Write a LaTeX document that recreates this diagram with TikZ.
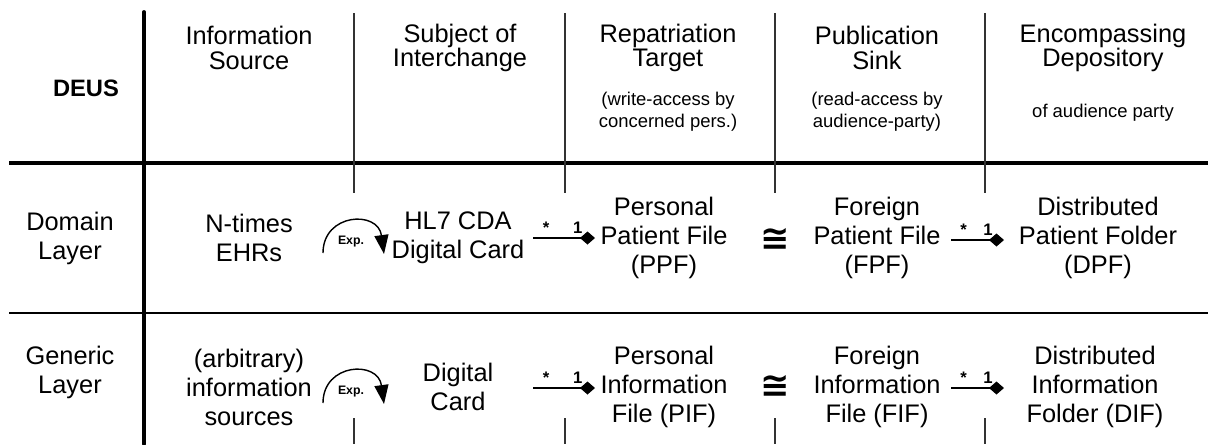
\documentclass[tikz,border=0pt]{standalone}
\usepackage{fontspec}
\setmainfont{Liberation Sans}
\newfontfamily\symfont{DejaVu Sans}
\usetikzlibrary{arrows.meta}
\newcommand{\bodyfont}{\fontsize{14.45pt}{16.5pt}\selectfont}
\newcommand{\headfont}{\fontsize{14.45pt}{13.9pt}\selectfont}
\newcommand{\notefont}{\fontsize{10.5pt}{12.5pt}\selectfont}
\newcommand{\rowdomain}{238}
\newcommand{\rowgeneric}{387}
\tikzset{
    common/.style={align=center, inner sep=0pt},
    cell/.style={common, font=\bodyfont},
    head/.style={common, font=\headfont},
    note/.style={common, font=\notefont},
    deus/.style={common, font=\fontsize{13.5pt}{16pt}\selectfont\bfseries},
    iso/.style={common, font=\fontsize{20pt}{20pt}\symfont\bfseries},
    expo/.style={common, font=\fontsize{7pt}{8pt}\selectfont\bfseries},
    mult/.style={common, anchor=base, yshift=0.09cm, font=\fontsize{9.5pt}{10pt}\selectfont\bfseries},
    export/.style={line width=0.8pt, -{Triangle[length=0.38cm, width=0.28cm]}},
    part/.style={line width=0.8pt, -{Diamond[length=0.3cm, width=0.26cm]}},
    rule/.style={line width=2.2pt},
    thinrule/.style={line width=1.5pt},
    sep/.style={line width=0.9pt, black!80}
}
\begin{document}
\begin{tikzpicture}[x=0.02cm, y=-0.02cm]
    \useasboundingbox (0,0) rectangle (1208,444);

    \draw[rule, line cap=round] (144,12) -- (144,444);
    \draw[rule] (9,163) -- (1208,163);
    \draw[thinrule] (9,313) -- (1208,313);
    \foreach \x in {354,565,775,985} {
        \draw[sep] (\x,13) -- (\x,193);
        \draw[sep] (\x,418) -- (\x,444);
    }

    \node[deus] (deus) at (86,88) {DEUS};
    \node[head] (source) at (249,48) {Information\\Source};
    \node[head] (subject) at (460,48) {Subject of\\Interchange};
    \node[head] (target) at (668,48) {Repatriation\\Target};
    \node[note] (targetnote) at (668,112) {(write-access by\\concerned pers.)};
    \node[head] (sink) at (877,48) {Publication\\Sink};
    \node[note] (sinknote) at (877,112) {(read-access by\\audience-party)};
    \node[head] (depot) at (1103,48) {Encompassing\\Depository};
    \node[note] (depotnote) at (1103,113) {of audience party};

    \node[cell] (domain) at (70,\rowdomain) {Domain\\Layer};
    \node[cell] (ehrs) at (249,\rowdomain) {N-times\\EHRs};
    \node[cell] (cda) at (458,\rowdomain) {HL7 CDA\\Digital Card};
    \node[cell] (ppf) at (664,\rowdomain) {Personal\\Patient File\\(PPF)};
    \node[iso] (isodomain) at (775,239) {≅};
    \node[cell] (fpf) at (877,\rowdomain) {Foreign\\Patient File\\(FPF)};
    \node[cell] (dpf) at (1098,\rowdomain) {Distributed\\Patient Folder\\(DPF)};

    \node[cell] (generic) at (70,372) {Generic\\Layer};
    \node[cell] (sources) at (249,\rowgeneric) {(arbitrary)\\information\\sources};
    \node[cell] (card) at (458,\rowgeneric) {Digital\\Card};
    \node[cell] (pif) at (664,\rowgeneric) {Personal\\Information\\File (PIF)};
    \node[iso] (isogeneric) at (775,386) {≅};
    \node[cell] (fif) at (877,\rowgeneric) {Foreign\\Information\\File (FIF)};
    \node[cell] (dif) at (1095,\rowgeneric) {Distributed\\Information\\Folder (DIF)};

    \coordinate (expdomain-a) at (323,253);
    \coordinate (expdomain-b) at (384,254);
    \coordinate (expgeneric-a) at (323,403);
    \coordinate (expgeneric-b) at (384,404);
    \draw[export] (expdomain-a) .. controls +(0,-40) and +(-6,-44) .. (expdomain-b);
    \node[expo] (expdomain) at (351,242) {Exp.};
    \draw[export] (expgeneric-a) .. controls +(0,-40) and +(-6,-44) .. (expgeneric-b);
    \node[expo] (expgeneric) at (351,392) {Exp.};

    \coordinate (cda-out) at (533,\rowdomain);
    \coordinate (ppf-in) at (595,\rowdomain);
    \coordinate (fpf-out) at (951,240);
    \coordinate (dpf-in) at (1004,240);
    \coordinate (card-out) at (533,388);
    \coordinate (pif-in) at (595,388);
    \coordinate (fif-out) at (951,388);
    \coordinate (dif-in) at (1004,388);
    \draw[part] (cda-out) -- node[mult, pos=.21] {*} node[mult, pos=.72] {1} (ppf-in);
    \draw[part] (fpf-out) -- node[mult, pos=.24] {*} node[mult, pos=.7] {1} (dpf-in);
    \draw[part] (card-out) -- node[mult, pos=.21] {*} node[mult, pos=.72] {1} (pif-in);
    \draw[part] (fif-out) -- node[mult, pos=.24] {*} node[mult, pos=.7] {1} (dif-in);
\end{tikzpicture}
\end{document}
